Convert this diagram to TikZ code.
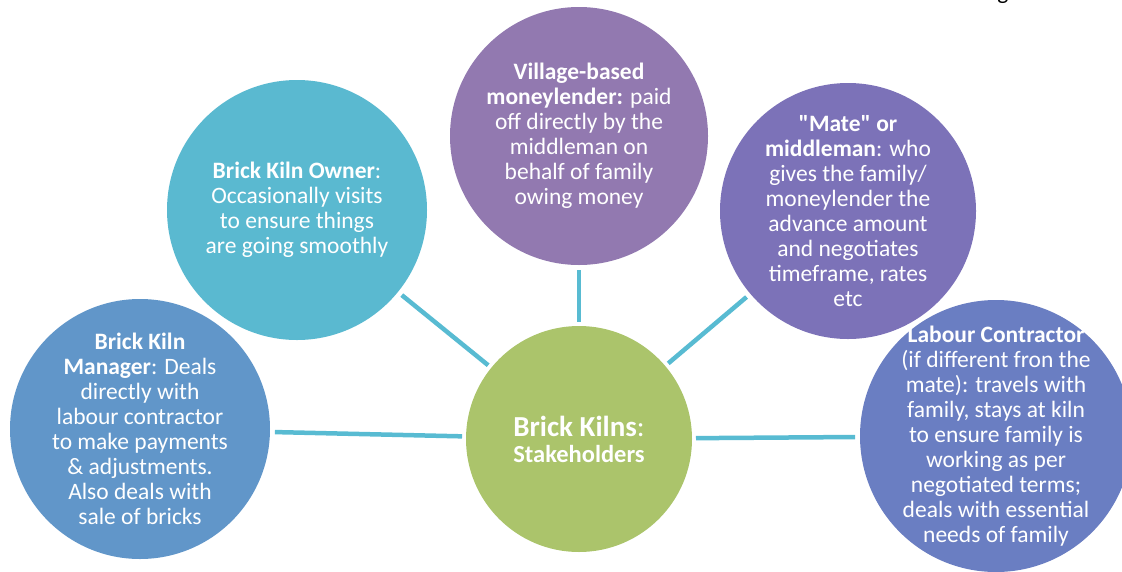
\documentclass[tikz,border=0pt]{standalone}
\usepackage{fontspec}
\setmainfont{Carlito}[Ligatures=TeXOff]
\definecolor{cgreen}{RGB}{171,196,107}
\definecolor{cteal}{RGB}{90,185,208}
\definecolor{cblue}{RGB}{97,150,201}
\definecolor{cplum}{RGB}{146,121,176}
\definecolor{cviolet}{RGB}{124,114,184}
\definecolor{cperi}{RGB}{106,126,194}
\definecolor{linec}{RGB}{88,187,210}
\begin{document}
\begin{tikzpicture}[x=1pt,y=-1pt,
  bub/.style={circle,inner sep=0pt,outer sep=0pt,minimum size=#1},
  txt/.style={text=white,align=center,font=\fontsize{23.5}{25}\selectfont,inner sep=0pt},
  conn/.style={draw=linec,line width=4.5pt,shorten <=5pt,shorten >=4pt}]
\useasboundingbox (0,0) rectangle (1122,571);
\clip (0,0) rectangle (1122,571);

% bubbles
\node[bub=226pt,fill=cgreen] (center) at (579,439) {};
\node[bub=260pt,fill=cteal] (owner) at (297,210) {};
\node[bub=260pt,fill=cblue] (manager) at (140,429) {};
\node[bub=258pt,fill=cplum] (lender) at (579,136) {};
\node[bub=256pt,fill=cviolet] (mate) at (848,211) {};
\node[bub=272pt,fill=cperi] (labour) at (996,436) {};

% connectors
\draw[conn] (owner) -- (center);
\draw[conn] (lender) -- (center);
\draw[conn] (mate) -- (center);
\draw[conn] (manager) -- (center);
\draw[conn] (labour) -- (center);

% texts
\node[txt,font=\fontsize{29}{26}\selectfont] (centerT) at (center)
  {\textbf{Brick Kilns}:\\{\fontsize{24.5}{26}\selectfont\textbf{Stakeholders}}};
\node[txt] (ownerT) at (owner)
  {\textbf{Brick Kiln Owner}:\\Occasionally visits\\to ensure things\\are going smoothly};
\node[txt] (managerT) at (manager)
  {\textbf{Brick Kiln}\\\textbf{Manager}: Deals\\directly with\\labour contractor\\to make payments\\\& adjustments.\\Also deals with\\sale of bricks};
\node[txt] (lenderT) at (lender)
  {\textbf{Village-based}\\\textbf{moneylender:} paid\\off directly by the\\middleman on\\behalf of family\\owing money};
\node[txt] (mateT) at (mate)
  {\textbf{"Mate" or}\\\textbf{middleman}: who\\gives the family/\\moneylender the\\advance amount\\and negotiates\\timeframe, rates\\etc};
\node[txt] (labourT) at (labour)
  {\textbf{Labour Contractor}\\(if different fron the\\mate): travels with\\family, stays at kiln\\to ensure family is\\working as per\\negotiated terms;\\deals with essential\\needs of family};

% cut-off letter at top edge
\node[anchor=base,inner sep=0pt,font=\fontsize{23.5}{25}\selectfont] (gfrag) at (1003,-1) {g};
\end{tikzpicture}
\end{document}
